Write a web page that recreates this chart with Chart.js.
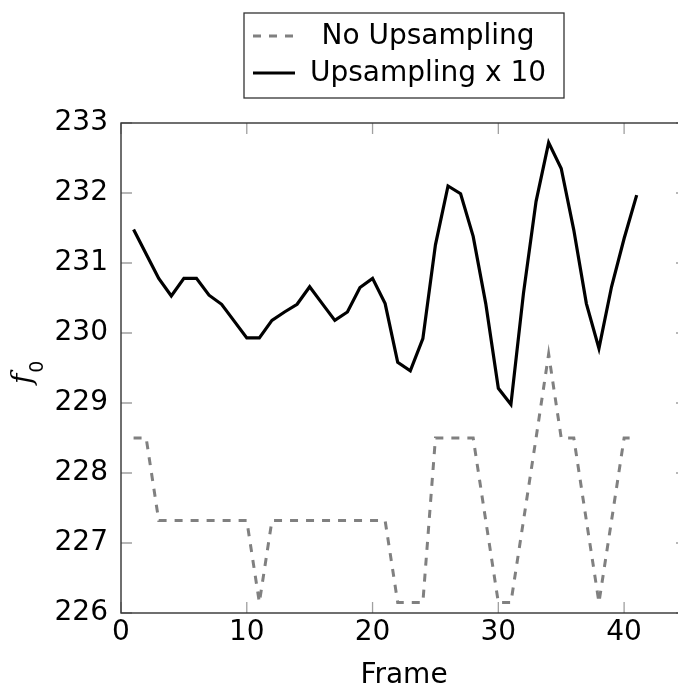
<!DOCTYPE html>
<html>
<head>
<meta charset="utf-8">
<script src="https://cdn.jsdelivr.net/npm/chart.js@4.4.1/dist/chart.umd.min.js"></script>
<style>
  body { margin: 0; background: #fff; }
  /* the plot frame runs past the right edge of the picture, as in the original */
  #wrap { width: 678px; height: 686px; overflow: hidden; }
</style>
</head>
<body>
<div id="wrap"><canvas id="f0Chart" width="687" height="686"></canvas></div>
<script>
// frame index
const frames = [1, 2, 3, 4, 5, 6, 7, 8, 9, 10, 11, 12, 13, 14, 15, 16, 17, 18, 19, 20,
    21, 22, 23, 24, 25, 26, 27, 28, 29, 30, 31, 32, 33, 34, 35, 36, 37, 38, 39, 40, 41];

// f0 without upsampling (quantised levels)
const noUpsampling = [228.50, 228.50, 227.32, 227.32, 227.32, 227.32, 227.32, 227.32, 227.32, 227.32,
    226.15, 227.32, 227.32, 227.32, 227.32, 227.32, 227.32, 227.32, 227.32, 227.32,
    227.32, 226.15, 226.15, 226.15, 228.50, 228.50, 228.50, 228.50, 227.32, 226.15,
    226.15, 227.32, 228.50, 229.70, 228.50, 228.50, 227.32, 226.15, 227.32, 228.50, 228.50];

// f0 with upsampling x 10
const upsampling10 = [231.48, 231.13, 230.78, 230.53, 230.78, 230.78, 230.54, 230.41, 230.17, 229.93,
    229.93, 230.18, 230.30, 230.41, 230.66, 230.42, 230.18, 230.30, 230.65, 230.78,
    230.42, 229.58, 229.46, 229.92, 231.26, 232.10, 231.99, 231.38, 230.42, 229.21,
    228.98, 230.57, 231.88, 232.72, 232.35, 231.47, 230.42, 229.78, 230.66, 231.35, 231.97];

const seriesNames = ['No Upsampling', 'Upsampling x 10'];
const xTicks = [0, 10, 20, 30, 40];
const yTicks = [226, 227, 228, 229, 230, 231, 232, 233];

const FONT = "'DejaVu Sans', sans-serif";

function toPoints(vals) {
    return frames.map(function (f, i) { return { x: f, y: vals[i] }; });
}

// inward ticks, frame, pgfplots-like legend and y label
const pgfDecor = {
    id: 'pgfDecor',
    afterDraw: function (chart) {
        const ctx = chart.ctx;
        const a = chart.chartArea;
        const xs = chart.scales.x, ys = chart.scales.y;
        const tl = 11;
        ctx.save();
        ctx.strokeStyle = '#a0a0a0';
        ctx.lineWidth = 1.3;
        ctx.beginPath();
        xs.ticks.forEach(function (t) {
            const px = xs.getPixelForValue(t.value);
            ctx.moveTo(px, a.bottom); ctx.lineTo(px, a.bottom - tl);
            ctx.moveTo(px, a.top); ctx.lineTo(px, a.top + tl);
        });
        ys.ticks.forEach(function (t) {
            const py = ys.getPixelForValue(t.value);
            ctx.moveTo(a.left, py); ctx.lineTo(a.left + tl, py);
            ctx.moveTo(a.right, py); ctx.lineTo(a.right - tl, py);
        });
        ctx.stroke();

        ctx.strokeStyle = '#333';
        ctx.lineWidth = 1.4;
        ctx.strokeRect(a.left, a.top, a.right - a.left, a.bottom - a.top);

        // legend
        const ds = chart.data.datasets;
        ctx.strokeStyle = '#333';
        ctx.lineWidth = 1.3;
        ctx.strokeRect(244, 13, 320, 85);
        const rows = [36, 73];
        ds.forEach(function (d, i) {
            ctx.beginPath();
            ctx.strokeStyle = d.borderColor;
            ctx.lineWidth = d.borderWidth;
            ctx.setLineDash(d.borderDash || []);
            ctx.moveTo(253, rows[i]);
            ctx.lineTo(295, rows[i]);
            ctx.stroke();
            ctx.setLineDash([]);
            ctx.fillStyle = '#000';
            ctx.font = '28px ' + FONT;
            ctx.textAlign = 'center';
            ctx.textBaseline = 'middle';
            ctx.fillText(d.label, 428, rows[i] + 1);
        });

        // y axis label f_0
        ctx.translate(0, 384);
        ctx.rotate(-Math.PI / 2);
        ctx.fillStyle = '#000';
        ctx.textAlign = 'left';
        ctx.textBaseline = 'alphabetic';
        ctx.font = "italic 28px 'DejaVu Serif', serif";
        ctx.fillText('f', 0, 31);
        const fw = ctx.measureText('f').width;
        ctx.font = '19px ' + FONT;
        ctx.fillText('0', fw + 1, 43);
        ctx.restore();
    }
};

const ctxF0 = document.getElementById('f0Chart').getContext('2d');
const f0Chart = new Chart(ctxF0, {
    type: 'line',
    data: {
        datasets: [{
            label: seriesNames[0],
            data: toPoints(noUpsampling),
            borderColor: '#808080',
            borderWidth: 3,
            borderDash: [8, 8],
            pointRadius: 0,
            tension: 0,
            fill: false
        }, {
            label: seriesNames[1],
            data: toPoints(upsampling10),
            borderColor: '#000000',
            borderWidth: 3.2,
            pointRadius: 0,
            tension: 0,
            fill: false
        }]
    },
    options: {
        responsive: false,
        animation: false,
        devicePixelRatio: 1,
        layout: {
            padding: { top: 123, left: 0, right: 0, bottom: 0 }
        },
        plugins: {
            legend: { display: false },
            tooltip: { enabled: false }
        },
        scales: {
            x: {
                type: 'linear',
                min: 0,
                max: 45,
                afterFit: function (scale) { scale.height = 73; },
                afterBuildTicks: function (scale) {
                    scale.ticks = xTicks.map(function (v) { return { value: v }; });
                },
                grid: { display: false, drawTicks: false },
                border: { display: false },
                ticks: {
                    padding: 3,
                    color: '#000',
                    font: { family: FONT, size: 28 },
                    maxRotation: 0
                },
                title: {
                    display: true,
                    text: 'Frame',
                    color: '#000',
                    font: { family: FONT, size: 28, lineHeight: 0.72 },
                    padding: 0
                }
            },
            y: {
                min: 226,
                max: 233,
                afterFit: function (scale) { scale.width = 121; },
                afterBuildTicks: function (scale) {
                    scale.ticks = yTicks.map(function (v) { return { value: v }; });
                },
                grid: { display: false, drawTicks: false },
                border: { display: false },
                ticks: {
                    padding: 13,
                    color: '#000',
                    font: { family: FONT, size: 28 }
                }
            }
        }
    },
    plugins: [pgfDecor]
});
</script>
</body>
</html>
